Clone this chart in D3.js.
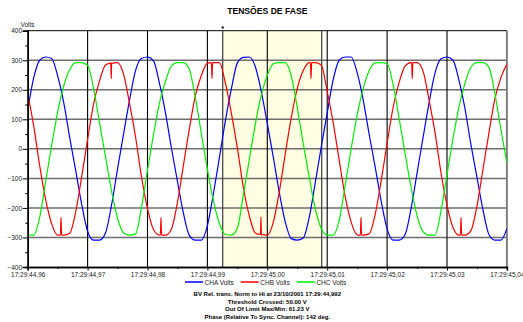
<!DOCTYPE html>
<html>
<head>
<meta charset="utf-8">
<script src="https://cdn.jsdelivr.net/npm/d3@7"></script>
<style>
  body { margin: 0; background: #fff; }
  svg { display: block; font-family: "Liberation Sans", Arial, sans-serif; }
</style>
</head>
<body>
<div id="chart"></div>
<script>
// samples every 1 ms starting at 17:29:44,960
const sampleStepMs = 1;

const chaVolts = [130,240,300,311,306,247,158,40,-72,-186,
  -279,-309,-309,-284,-190,-68,50,165,265,306,
  311,298,222,122,2,-110,-218,-294,-309,-309,
  -260,-152,-30,95,203,291,310,311,278,194,
  86,-28,-147,-248,-304,-309,-302,-232,-115,6,
  122,234,300,311,311,258,167,50,-60,-176,
  -271,-309,-309,-290,-202,-82,38,155,257,305,
  311,300,232,136,14,-96,-206,-290,-309,-309,
  -270];

const chbVolts = [186,78,-57,-172,-254,-292,-292,-286,-215,-96,
  32,152,231,284,292,292,253,154,41,-95,
  -202,-273,-292,-292,-271,-181,-55,69,181,249,
  290,292,292,223,121,3,-130,-227,-285,-292,
  -292,-249,-146,-17,106,204,265,292,292,284,
  195,89,-38,-161,-248,-291,-292,-288,-223,-109,
  18,140,224,280,292,292,263,166,55,-81,
  -191,-266,-292,-292,-277,-194,-70,54,170,241,
  287];

const chcVolts = [-292,-292,-232,-110,12,124,212,268,292,292,
  283,204,88,-28,-143,-235,-284,-292,-288,-197,
  -72,48,156,229,281,292,292,268,172,51,
  -69,-175,-252,-290,-292,-269,-156,-36,84,182,
  249,288,292,292,246,140,18,-96,-202,-269,
  -292,-292,-242,-124,0,114,204,264,291,292,
  288,218,104,-15,-130,-226,-280,-292,-292,-210,
  -87,34,142,222,277,292,292,276,186,65,
  -48];

// short glitches on CHB: [ms, base volts, peak volts]
const chbGlitches = [[5.56,-292,-232],[13.96,290,238],[22.25,-292,-232],[30.77,292,238],
  [38.95,-290,-230],[47.3,292,238],[55.64,-292,-232],[64.2,292,238],[72.34,-292,-232]];

const seriesNames = ["CHA Volts", "CHB Volts", "CHC Volts"];
const seriesColors = ["#0000ff", "#ff0000", "#00ee00"];

const xTickMs = [0,10,20,30,40,50,60,70,80];
const xTickLabels = ["17:29:44,96","17:29:44,97","17:29:44,98","17:29:44,99","17:29:45,00",
  "17:29:45,01","17:29:45,02","17:29:45,03","17:29:45,04"];
const yTicks = [-400,-300,-200,-100,0,100,200,300,400];

const highlightMs = [32.55, 49.08];   // trigger window

const titleText = "TENSÕES DE FASE";
const infoLines = ["BV Rel. trans. Norm to Hi at 23/10/2001 17:29:44,992",
  "Threshold Crossed: 50.00  V",
  "Out Of Limit Max/Min: 61.23  V",
  "Phase (Relative To Sync. Channel): 142 deg."];

const width = 523, height = 322;
const plotLeft = 27.7, plotRight = 506.9, plotTop = 30.7, plotBottom = 267;

const x = d3.scaleLinear().domain([0, 80]).range([plotLeft, plotRight]);
const y = d3.scaleLinear().domain([-400, 400]).range([plotBottom, plotTop]);

const svg = d3.select("#chart").append("svg")
  .attr("width", width).attr("height", height);

svg.append("clipPath").attr("id", "plot-clip")
  .append("rect").attr("x", plotLeft).attr("y", plotTop)
  .attr("width", plotRight - plotLeft).attr("height", plotBottom - plotTop);

// title
svg.append("text")
  .attr("x", (plotLeft + plotRight) / 2).attr("y", 14)
  .attr("text-anchor", "middle")
  .attr("font-size", "8.6px").attr("font-weight", "bold")
  .text(titleText);

svg.append("text")
  .attr("x", 20.5).attr("y", 26.5)
  .attr("font-size", "6.5px").attr("fill", "#222")
  .text("Volts");

// trigger window
svg.append("rect")
  .attr("x", x(highlightMs[0])).attr("y", plotTop)
  .attr("width", x(highlightMs[1]) - x(highlightMs[0]))
  .attr("height", plotBottom - plotTop)
  .attr("fill", "#fffde2");

// grid
svg.append("g").selectAll("line")
  .data(yTicks.filter(d => d > -400 && d < 400))
  .join("line")
  .attr("x1", plotLeft).attr("x2", plotRight)
  .attr("y1", d => y(d)).attr("y2", d => y(d))
  .attr("stroke", "#6e6e6e").attr("stroke-width", 1.5);

svg.append("line")
  .attr("x1", plotLeft).attr("x2", plotRight).attr("y1", y(400)).attr("y2", y(400))
  .attr("stroke", "#000").attr("stroke-width", 1);

svg.append("g").selectAll("line")
  .data(xTickMs.filter(d => d > 0 && d < 80))
  .join("line")
  .attr("x1", d => x(d)).attr("x2", d => x(d))
  .attr("y1", plotTop).attr("y2", plotBottom)
  .attr("stroke", "#000").attr("stroke-width", 1.1);

svg.append("line")
  .attr("x1", plotRight).attr("x2", plotRight).attr("y1", plotTop).attr("y2", plotBottom)
  .attr("stroke", "#808080").attr("stroke-width", 2);

svg.append("g").selectAll("line")
  .data(highlightMs)
  .join("line")
  .attr("x1", d => x(d)).attr("x2", d => x(d))
  .attr("y1", plotTop).attr("y2", plotBottom)
  .attr("stroke", "#4a4a4a").attr("stroke-width", 1.3);

svg.append("rect")
  .attr("x", x(highlightMs[0]) - 1).attr("y", 26.5)
  .attr("width", 2).attr("height", 2).attr("fill", "#000");

// waveforms
function toPoints(values, glitches) {
  const pts = values.map((v, i) => [i * sampleStepMs, v]);
  (glitches || []).forEach(g => {
    pts.push([g[0] - 0.1, g[1]], [g[0], g[2]], [g[0] + 0.1, g[1]]);
  });
  return pts.sort((a, b) => a[0] - b[0]);
}

const series = [toPoints(chaVolts), toPoints(chbVolts, chbGlitches), toPoints(chcVolts)];

const line = d3.line()
  .x(d => x(d[0])).y(d => y(d[1]))
  .curve(d3.curveMonotoneX);

svg.append("g").attr("clip-path", "url(#plot-clip)")
  .selectAll("path")
  .data(series)
  .join("path")
  .attr("d", line)
  .attr("fill", "none")
  .attr("stroke", (d, i) => seriesColors[i])
  .attr("stroke-width", 1.2)
  .attr("stroke-linejoin", "round");

// axes
const yAxis = svg.append("g")
  .attr("transform", `translate(${plotLeft},0)`)
  .call(d3.axisLeft(y).tickValues(yTicks).tickSize(5).tickPadding(0.6));
const yMinor = svg.append("g")
  .attr("transform", `translate(${plotLeft},0)`)
  .call(d3.axisLeft(y).tickValues(d3.range(-350, 400, 100)).tickSize(2.5).tickFormat(""));

const xAxis = svg.append("g")
  .attr("transform", `translate(0,${plotBottom})`)
  .call(d3.axisBottom(x).tickValues(xTickMs).tickSize(3.5).tickPadding(2)
    .tickFormat((d, i) => xTickLabels[i]));
const xMinor = svg.append("g")
  .attr("transform", `translate(0,${plotBottom})`)
  .call(d3.axisBottom(x).tickValues(d3.range(5, 80, 10)).tickSize(2).tickFormat(""));

[yAxis, yMinor, xAxis, xMinor].forEach(g => {
  g.select(".domain").attr("stroke", "#000").attr("stroke-width", 1.5);
  g.selectAll(".tick line").attr("stroke", "#000").attr("stroke-width", 1);
  g.selectAll("text").attr("font-size", "6.5px").attr("fill", "#222")
    .attr("font-family", "Liberation Sans, Arial, sans-serif");
});

// legend
const legend = svg.append("g");
let lx = 185;
seriesNames.forEach((name, i) => {
  legend.append("line")
    .attr("x1", lx).attr("x2", lx + 18).attr("y1", 282).attr("y2", 282)
    .attr("stroke", seriesColors[i]).attr("stroke-width", 1.5);
  const t = legend.append("text")
    .attr("x", lx + 19.5).attr("y", 284.5)
    .attr("font-size", "6.5px").attr("fill", "#222")
    .text(name);
  lx += 19.5 + t.node().getComputedTextLength() + 7;
});

// info lines
svg.append("g").selectAll("text")
  .data(infoLines)
  .join("text")
  .attr("x", (plotLeft + plotRight) / 2)
  .attr("y", (d, i) => 296 + i * 7.7)
  .attr("text-anchor", "middle")
  .attr("font-size", "6px").attr("font-weight", "bold")
  .text(d => d);
</script>
</body>
</html>
